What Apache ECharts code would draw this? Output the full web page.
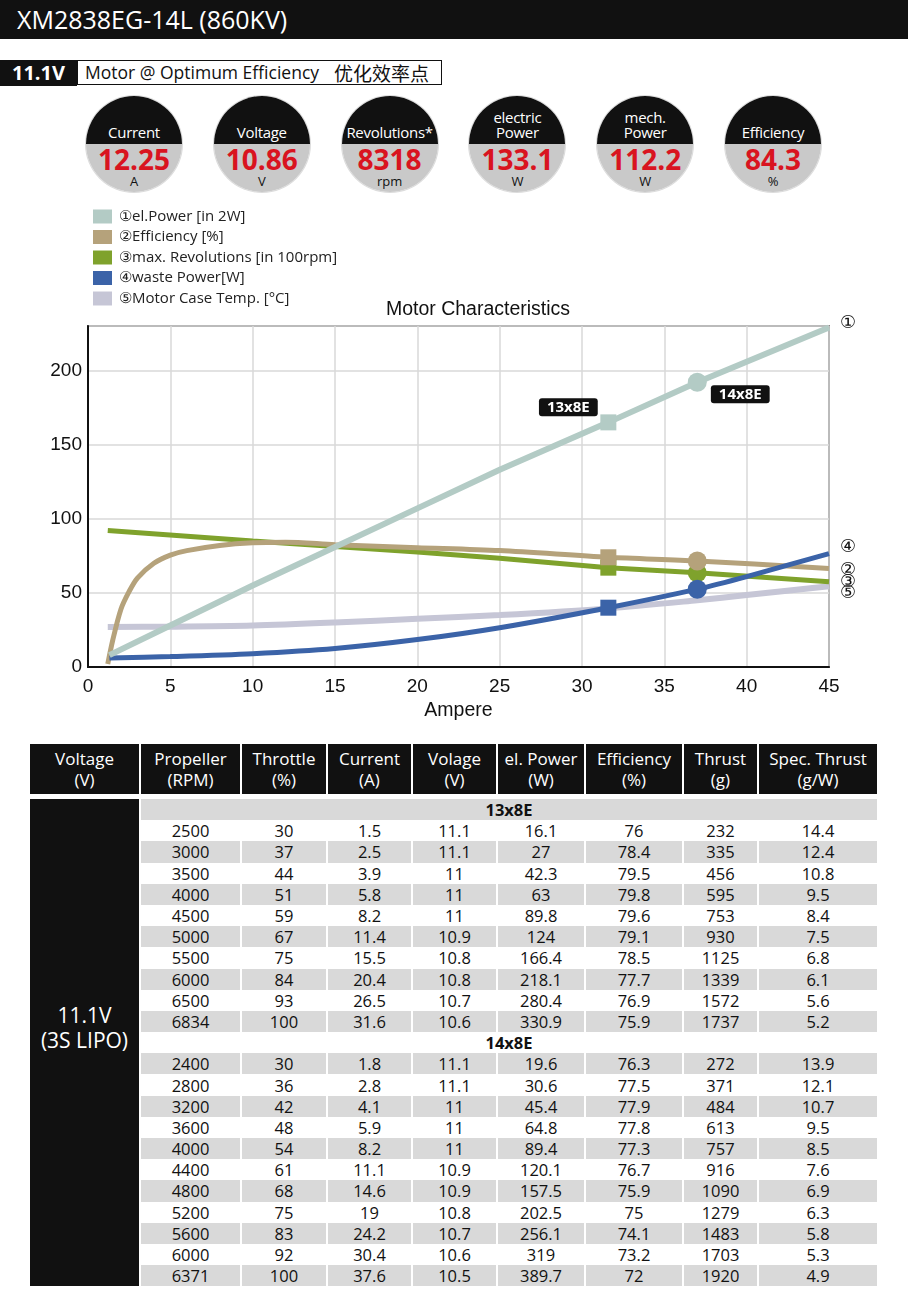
<!DOCTYPE html>
<html><head><meta charset="utf-8">
<script src="https://cdn.jsdelivr.net/npm/echarts@6.0.0/dist/echarts.min.js"></script>
<style>
html,body{margin:0;padding:0;background:#fff;}
body{width:908px;height:1315px;position:relative;overflow:hidden;font-family:'Open Sans','Noto Sans',sans-serif;color:#111;}
#hdr{position:absolute;left:0;top:0;width:908px;height:39px;background:#111;color:#fff;font-size:25px;line-height:39px;}
#hdr span{position:absolute;left:17px;}
#vbox{position:absolute;left:0;top:60px;width:77px;height:26px;background:#111;color:#fff;font-weight:bold;font-size:20px;line-height:26px;text-align:center;}
#mbox{position:absolute;left:77px;top:60px;width:363px;height:23px;border:1.5px solid #111;font-size:17.5px;line-height:23px;}
#mbox .a{position:absolute;left:7px;}
#mbox .b{position:absolute;left:256px;font-family:'Noto Sans CJK SC';font-size:19px;line-height:23px;}
.circ{position:absolute;top:96px;width:96px;height:96px;border-radius:50%;background:linear-gradient(#111 0,#111 50%,#c9c9c9 50%,#c9c9c9 100%);overflow:hidden;box-shadow:0 0 0 1px #dcdcdc;}
.circ .lab{position:absolute;left:0;width:96px;text-align:center;color:#fff;font-size:15px;letter-spacing:-0.3px;}
.circ .val{position:absolute;left:0;top:48px;width:96px;text-align:center;color:#d9141f;font-weight:bold;font-size:28px;line-height:30px;}
.circ .unit{position:absolute;left:0;top:77px;width:96px;text-align:center;color:#111;font-size:13px;line-height:16px;}
#chart{position:absolute;left:0;top:195px;width:908px;height:540px;}
table{position:absolute;left:28px;border-collapse:separate;border-spacing:2px 0;table-layout:fixed;}
#thead{top:744px;}
#tbody{top:799px;}
#thead td{background:#111;color:#fff;text-align:center;font-size:17px;line-height:21px;height:50px;padding:0;}
#tbody td{text-align:center;font-size:16.5px;height:21.2px;line-height:21px;padding:0;color:#111;}
#tbody td.v{background:#111;color:#fff;font-size:21px;line-height:25px;padding:0 0 30px 0;}
#tbody tr.g td.c{background:#d9d9d9;}
#tbody td.grp{font-weight:bold;}
</style></head>
<body>
<div id="hdr"><span id="title"></span></div>
<div id="vbox"></div>
<div id="mbox"><span class="a"></span><span class="b"></span></div>
<div id="circles"></div>
<div id="chart"></div>
<table id="thead"><colgroup id="cg1"></colgroup><tbody><tr id="hrow"></tr></tbody></table>
<table id="tbody"><colgroup id="cg2"></colgroup><tbody id="rows"></tbody></table>
<script>
// ---------- text / data ----------
const pageTitle = 'XM2838EG-14L (860KV)';
const voltTag = '11.1V';
const modeText = 'Motor @ Optimum Efficiency';
const modeTextCn = '优化效率点';

const circleLabels = ['Current', 'Voltage', 'Revolutions*', 'electric\nPower', 'mech.\nPower', 'Efficiency'];
const circleValues = ['12.25', '10.86', '8318', '133.1', '112.2', '84.3'];
const circleUnits = ['A', 'V', 'rpm', 'W', 'W', '%'];

const seriesNames = ['①el.Power [in 2W]', '②Efficiency [%]', '③max. Revolutions [in 100rpm]', '④waste Power[W]', '⑤Motor Case Temp. [°C]'];
const endMarks = ['①', '②', '③', '④', '⑤'];
const chartTitle = 'Motor Characteristics';
const xName = 'Ampere';

// [Ampere, value]
const elPower = [[1.3,8],[5,28],[10,55],[15,81],[20,107],[25,133],[31.6,165],[37,192],[45,229]];
const efficiency = [[1.2,2],[1.5,18],[2,39],[2.5,51],[3,60],[4,70],[5,75.5],[6,78.5],[8,82],[10,83.8],[12,84.2],[15,82.5],[20,80.5],[25,78.5],[31.6,74],[37,71.5],[45,66.5]];
const revolutions = [[1.2,92],[10,85],[15,81.3],[20,77.5],[25,73.4],[31.6,67],[37,63.5],[45,57.5]];
const wastePower = [[1.3,6],[5,7],[10,9],[15,12.5],[20,18.5],[25,26.5],[31.6,40],[37,52.5],[40,61],[45,76.5]];
const caseTemp = [[1.2,27],[5,27.2],[10,28],[15,30],[20,32.5],[25,35],[31.6,39.5],[37,45],[40,48.5],[45,54.5]];

const prop13Current = 31.6;
const prop14Current = 37;
const prop13Name = '13x8E';
const prop14Name = '14x8E';

const tableHead = [['Voltage','(V)'],['Propeller','(RPM)'],['Throttle','(%)'],['Current','(A)'],['Volage','(V)'],['el. Power','(W)'],['Efficiency','(%)'],['Thrust','(g)'],['Spec. Thrust','(g/W)']];
const colWidths = [109, 99, 84, 83, 83, 86, 96, 73, 118];
const voltageCell = ['11.1V', '(3S LIPO)'];
const rows13 = [
 [2500,30,1.5,11.1,16.1,76,232,14.4],
 [3000,37,2.5,11.1,27,78.4,335,12.4],
 [3500,44,3.9,11,42.3,79.5,456,10.8],
 [4000,51,5.8,11,63,79.8,595,9.5],
 [4500,59,8.2,11,89.8,79.6,753,8.4],
 [5000,67,11.4,10.9,124,79.1,930,7.5],
 [5500,75,15.5,10.8,166.4,78.5,1125,6.8],
 [6000,84,20.4,10.8,218.1,77.7,1339,6.1],
 [6500,93,26.5,10.7,280.4,76.9,1572,5.6],
 [6834,100,31.6,10.6,330.9,75.9,1737,5.2]
];
const rows14 = [
 [2400,30,1.8,11.1,19.6,76.3,272,13.9],
 [2800,36,2.8,11.1,30.6,77.5,371,12.1],
 [3200,42,4.1,11,45.4,77.9,484,10.7],
 [3600,48,5.9,11,64.8,77.8,613,9.5],
 [4000,54,8.2,11,89.4,77.3,757,8.5],
 [4400,61,11.1,10.9,120.1,76.7,916,7.6],
 [4800,68,14.6,10.9,157.5,75.9,1090,6.9],
 [5200,75,19,10.8,202.5,75,1279,6.3],
 [5600,83,24.2,10.7,256.1,74.1,1483,5.8],
 [6000,92,30.4,10.6,319,73.2,1703,5.3],
 [6371,100,37.6,10.5,389.7,72,1920,4.9]
];

// ---------- header ----------
document.getElementById('title').textContent = pageTitle;
document.getElementById('vbox').textContent = voltTag;
document.querySelector('#mbox .a').textContent = modeText;
document.querySelector('#mbox .b').textContent = modeTextCn;

const cwrap = document.getElementById('circles');
circleLabels.forEach((lab, i) => {
  const c = document.createElement('div');
  c.className = 'circ';
  c.style.left = (86 + i * 127.8) + 'px';
  const l = document.createElement('div');
  l.className = 'lab';
  const lines = lab.split('\n');
  if (lines.length > 1) { l.style.top = '14px'; l.style.lineHeight = '15px'; }
  else { l.style.top = '25px'; l.style.lineHeight = '22px'; }
  l.innerHTML = lines.join('<br>');
  const v = document.createElement('div'); v.className = 'val'; v.textContent = circleValues[i];
  const u = document.createElement('div'); u.className = 'unit'; u.textContent = circleUnits[i];
  c.appendChild(l); c.appendChild(v); c.appendChild(u);
  cwrap.appendChild(c);
});

// ---------- table ----------
['cg1','cg2'].forEach(id => {
  const cg = document.getElementById(id);
  colWidths.forEach(w => { const col = document.createElement('col'); col.style.width = w + 'px'; cg.appendChild(col); });
});
const hrow = document.getElementById('hrow');
tableHead.forEach(h => { const td = document.createElement('td'); td.innerHTML = h.join('<br>'); hrow.appendChild(td); });

const tb = document.getElementById('rows');
const bodyRows = [];
bodyRows.push({grp: prop13Name});
rows13.forEach(r => bodyRows.push({cells: r}));
bodyRows.push({grp: prop14Name});
rows14.forEach(r => bodyRows.push({cells: r}));
bodyRows.forEach((r, i) => {
  const tr = document.createElement('tr');
  if (i % 2 === 0) tr.className = 'g';
  if (i === 0) {
    const td = document.createElement('td');
    td.className = 'v'; td.rowSpan = bodyRows.length;
    td.innerHTML = voltageCell.join('<br>');
    tr.appendChild(td);
  }
  if (r.grp) {
    const td = document.createElement('td');
    td.className = 'c grp'; td.colSpan = 8; td.textContent = r.grp;
    tr.appendChild(td);
  } else {
    r.cells.forEach(v => { const td = document.createElement('td'); td.className = 'c'; td.textContent = v; tr.appendChild(td); });
  }
  tb.appendChild(tr);
});

// ---------- chart ----------
const colors = ['#b3cbc5', '#b5a27b', '#7fa22c', '#3b63a8', '#c6c6d6'];
const tagStyle = {show: true, position: 'inside', backgroundColor: '#111', color: '#fff', fontWeight: 'bold', fontSize: 15, fontFamily: 'Open Sans', padding: [2, 8, 1, 8], borderRadius: 3};
function withMarkers(arr, labels) {
  return arr.map(p => {
    if (p[0] === prop13Current) {
      const o = {value: p, symbol: 'rect', symbolSize: 16};
      if (labels) o.label = Object.assign({}, tagStyle, {formatter: prop13Name, offset: [-40, -15]});
      return o;
    }
    if (p[0] === prop14Current) {
      const o = {value: p, symbol: 'circle', symbolSize: 19};
      if (labels) o.label = Object.assign({}, tagStyle, {formatter: prop14Name, offset: [43, 12]});
      return o;
    }
    return {value: p};
  });
}
function mkSeries(idx, data, width, smooth, markers, labels, endOffset) {
  return {
    name: seriesNames[idx], type: 'line', data: markers ? withMarkers(data, labels) : data,
    symbol: 'none', smooth: smooth,
    lineStyle: {color: colors[idx], width: width},
    itemStyle: {color: colors[idx]},
    emphasis: {disabled: true},
    endLabel: {show: true, formatter: endMarks[idx], distance: 11, offset: [0, endOffset], fontSize: 18, color: '#111', fontFamily: 'DejaVu Sans'}
  };
}
const chart = echarts.init(document.getElementById('chart'), null, {renderer: 'canvas'});
chart.setOption({
  animation: false,
  textStyle: {fontFamily: 'Liberation Sans'},
  title: {text: chartTitle, left: 473, top: 100, textAlign: 'center', textStyle: {fontSize: 19.5, fontWeight: 'normal', color: '#111', fontFamily: 'Liberation Sans'}},
  legend: {
    orient: 'vertical', left: 88, top: 9, itemWidth: 19, itemHeight: 14, itemGap: 5.5, icon: 'rect',
    data: seriesNames, selectedMode: false,
    textStyle: {fontSize: 15, color: '#222', fontFamily: 'Open Sans', padding: [0, 0, 0, 2], lineHeight: 14}
  },
  grid: {left: 88, right: 79, top: 131, bottom: 68, show: true, borderColor: '#333', borderWidth: 1.5},
  xAxis: {
    type: 'value', min: 0, max: 45, interval: 5,
    name: xName, nameLocation: 'middle', nameGap: 33, nameTextStyle: {fontSize: 19.5, color: '#111'},
    axisLine: {show: true, lineStyle: {color: '#111', width: 2}}, axisTick: {show: false},
    axisLabel: {fontSize: 19, color: '#111', margin: 10},
    splitLine: {show: true, lineStyle: {color: '#d8d8d8', width: 1.5}}
  },
  yAxis: {
    type: 'value', min: 0, max: 230, interval: 50,
    axisLine: {show: true, lineStyle: {color: '#111', width: 2}}, axisTick: {show: false},
    axisLabel: {fontSize: 19, color: '#111', margin: 6, formatter: v => (v % 50 === 0 ? String(v) : '')},
    splitLine: {show: true, lineStyle: {color: '#d8d8d8', width: 1.5}}
  },
  series: [
    mkSeries(4, caseTemp, 6, 0.3, false, false, 7),
    mkSeries(2, revolutions, 5, false, true, false, 1),
    mkSeries(1, efficiency, 5, 0.3, true, false, 2),
    mkSeries(3, wastePower, 5, 0.3, true, false, -6),
    mkSeries(0, elPower, 6, false, true, true, -4)
  ]
});
</script>
</body></html>
